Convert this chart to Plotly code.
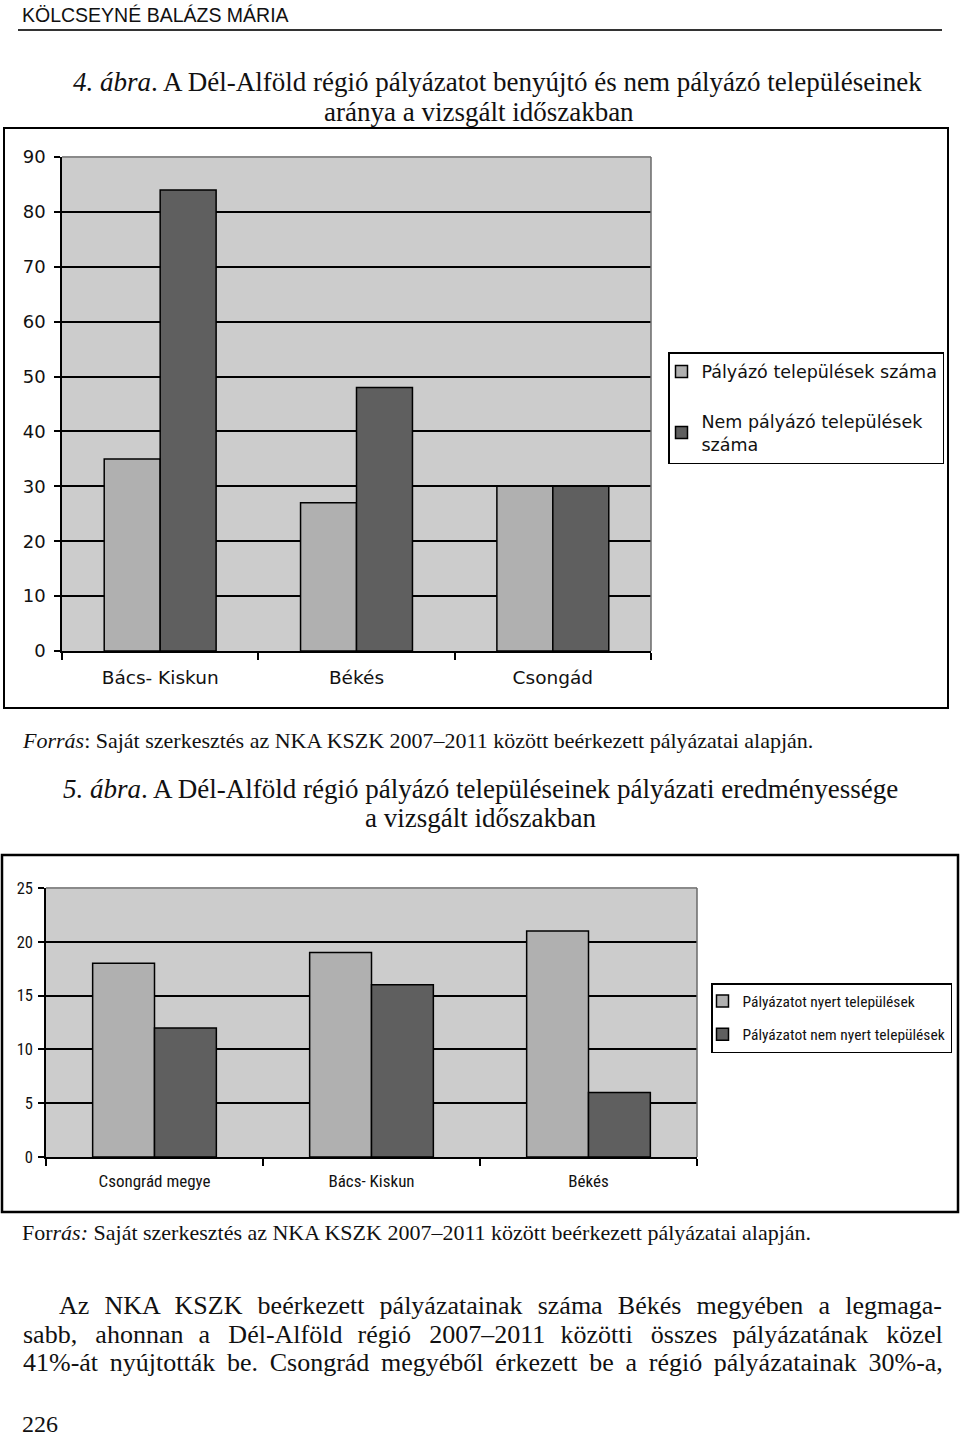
import plotly.graph_objects as go

W, H = 960, 1440


def px(x):
    return x / W


def py(y):
    return 1 - y / H


# ---------------- data ----------------
cat1 = ["Bács- Kiskun", "Békés", "Csongád"]
palyazo = [35, 27, 30]
nem_palyazo = [84, 48, 30]
names1 = ["Pályázó települések száma", "Nem pályázó települések<br>száma"]
yticks1 = [0, 10, 20, 30, 40, 50, 60, 70, 80, 90]

cat2 = ["Csongrád megye", "Bács- Kiskun", "Békés"]
nyert = [18, 19, 21]
nem_nyert = [12, 16, 6]
names2 = ["Pályázatot nyert települések", "Pályázatot nem nyert települések"]
yticks2 = [0, 5, 10, 15, 20, 25]

# ---------------- styles ----------------
LIGHT = "#B0B0B0"
DARK = "#5F5F5F"
BG = "#CCCCCC"
SANS1 = "DejaVu Sans, Verdana, sans-serif"
NARROW = "Liberation Sans Narrow, Arial Narrow, Roboto Condensed, Liberation Sans, sans-serif"
SERIF = "Liberation Serif, Times New Roman, serif"

fig = go.Figure()
outline = dict(color="black", width=1.5)

fig.add_trace(go.Bar(x=cat1, y=palyazo, name=names1[0], marker=dict(color=LIGHT, line=outline),
                     xaxis="x", yaxis="y", legend="legend", legendgroup="a"))
fig.add_trace(go.Bar(x=cat1, y=nem_palyazo, name=names1[1], marker=dict(color=DARK, line=outline),
                     xaxis="x", yaxis="y", legend="legend", legendgroup="b"))
fig.add_trace(go.Bar(x=cat2, y=nyert, name=names2[0], marker=dict(color=LIGHT, line=outline),
                     xaxis="x2", yaxis="y2", legend="legend2", legendgroup="c"))
fig.add_trace(go.Bar(x=cat2, y=nem_nyert, name=names2[1], marker=dict(color=DARK, line=outline),
                     xaxis="x2", yaxis="y2", legend="legend2", legendgroup="d"))

xcommon = dict(tickson="boundaries", ticks="outside", ticklen=7, tickcolor="black", tickwidth=1.5,
               showline=True, linecolor="black", linewidth=1.5, showgrid=False, fixedrange=True,
               automargin=False)
ycommon = dict(ticks="outside", ticklen=6, tickcolor="black", tickwidth=1.5, showline=True,
               linecolor="black", linewidth=1.5, showgrid=True, gridcolor="black", gridwidth=2,
               zeroline=False, fixedrange=True, automargin=False)

fig.update_layout(
    width=W, height=H,
    margin=dict(l=0, r=0, t=0, b=0, autoexpand=False),
    paper_bgcolor="white", plot_bgcolor=BG,
    barmode="group", bargap=0.43, bargroupgap=0,
    xaxis=dict(domain=[px(62), px(651)], anchor="y", ticklabelstandoff=9,
               tickfont=dict(family=SANS1, size=18.5, color="#111"), **xcommon),
    yaxis=dict(domain=[py(651), py(157)], anchor="x", range=[0, 90], tickvals=yticks1,
               ticklabelstandoff=5,
               tickfont=dict(family=SANS1, size=18, color="#111"), **ycommon),
    xaxis2=dict(domain=[px(46), px(697)], anchor="y2", ticklabelstandoff=8,
                tickfont=dict(family=NARROW, size=17, color="#111"), **xcommon),
    yaxis2=dict(domain=[py(1157), py(888)], anchor="x2", range=[0, 25], tickvals=yticks2,
                ticklabelstandoff=2,
                tickfont=dict(family=NARROW, size=16.5, color="#111"), **ycommon),
    legend=dict(x=px(668), y=py(352), xanchor="left", yanchor="top", bgcolor="white",
                bordercolor="black", borderwidth=1.5, font=dict(family=SANS1, size=17.5, color="#111"),
                tracegroupgap=24, itemwidth=30, indentation=-8),
    legend2=dict(x=px(711), y=py(983), xanchor="left", yanchor="top", bgcolor="white",
                 bordercolor="black", borderwidth=1.5, font=dict(family=NARROW, size=15.5, color="#111"),
                 tracegroupgap=10, itemwidth=30, indentation=-10),
    showlegend=True,
)

shapes = []
# header rule
shapes.append(dict(type="line", xref="paper", yref="paper", x0=px(18), x1=px(942), y0=py(30), y1=py(30),
                   line=dict(color="#333", width=2)))
# outer chart boxes
shapes.append(dict(type="rect", xref="paper", yref="paper", x0=px(4), x1=px(948), y0=py(708), y1=py(128),
                   line=dict(color="black", width=2), layer="below"))
shapes.append(dict(type="rect", xref="paper", yref="paper", x0=px(2), x1=px(958), y0=py(1212), y1=py(855),
                   line=dict(color="black", width=2.5), layer="below"))
# plot-area top/right frame (gray)
for xr, yr in (("x", "y"), ("x2", "y2")):
    shapes.append(dict(type="line", xref=f"{xr} domain", yref=f"{yr} domain", x0=0, x1=1, y0=1, y1=1,
                       line=dict(color="#8A8A8A", width=2), layer="above"))
    shapes.append(dict(type="line", xref=f"{xr} domain", yref=f"{yr} domain", x0=1, x1=1, y0=0, y1=1,
                       line=dict(color="#6A6A6A", width=1.5), layer="above"))
fig.update_layout(shapes=shapes)

ann = []


def text(t, x, y, size, family=SERIF, xanchor="left", color="#111"):
    ann.append(dict(text=t, x=px(x), y=py(y), xref="paper", yref="paper", xanchor=xanchor,
                    yanchor="middle", showarrow=False, font=dict(family=family, size=size, color=color)))


NB = "\u00a0"
TS = "\u2009"
HS = "\u200a"


def spread(s, extras):
    words = s.split(" ")
    out = words[0]
    for i, w in enumerate(words[1:]):
        out += " " + extras[i % len(extras)] + w
    return out


text("KÖLCSEYNÉ BALÁZS MÁRIA", 20, 15, 19.5, family="Liberation Sans, Arial, sans-serif")
text("<i>4. ábra</i>. A Dél-Alföld régió pályázatot benyújtó és nem pályázó településeinek",
     497, 82, 27, xanchor="center")
text("aránya a vizsgált időszakban", 479, 112, 27, xanchor="center")
text("<i>Forrás</i>: Saját szerkesztés az NKA KSZK 2007–2011 között beérkezett pályázatai alapján.",
     20, 741, 22)
text("<i>5. ábra</i>. A Dél-Alföld régió pályázó településeinek pályázati eredményessége",
     480, 789, 27, xanchor="center")
text("a vizsgált időszakban", 480, 818, 27, xanchor="center")
text("For<i>rás:</i> Saját szerkesztés az NKA KSZK 2007–2011 között beérkezett pályázatai alapján.",
     20, 1232, 22)
text(spread("Az NKA KSZK beérkezett pályázatainak száma Békés megyében a legmaga-", [NB + HS]),
     57, 1305, 26)
text(spread("sabb, ahonnan a Dél-Alföld régió 2007–2011 közötti összes pályázatának közel",
            [NB + TS, NB + HS]),
     21, 1334, 26)
text(spread("41%-át nyújtották be. Csongrád megyéből érkezett be a régió pályázatainak 30%-a,", [TS]),
     21, 1362, 26)
text("226", 20, 1424, 24)
fig.update_layout(annotations=ann)

fig.write_html("out.html", config={"displayModeBar": False},
               post_script="document.body.style.margin='0';document.body.style.padding='0';"
                           "document.documentElement.style.overflow='hidden';")
